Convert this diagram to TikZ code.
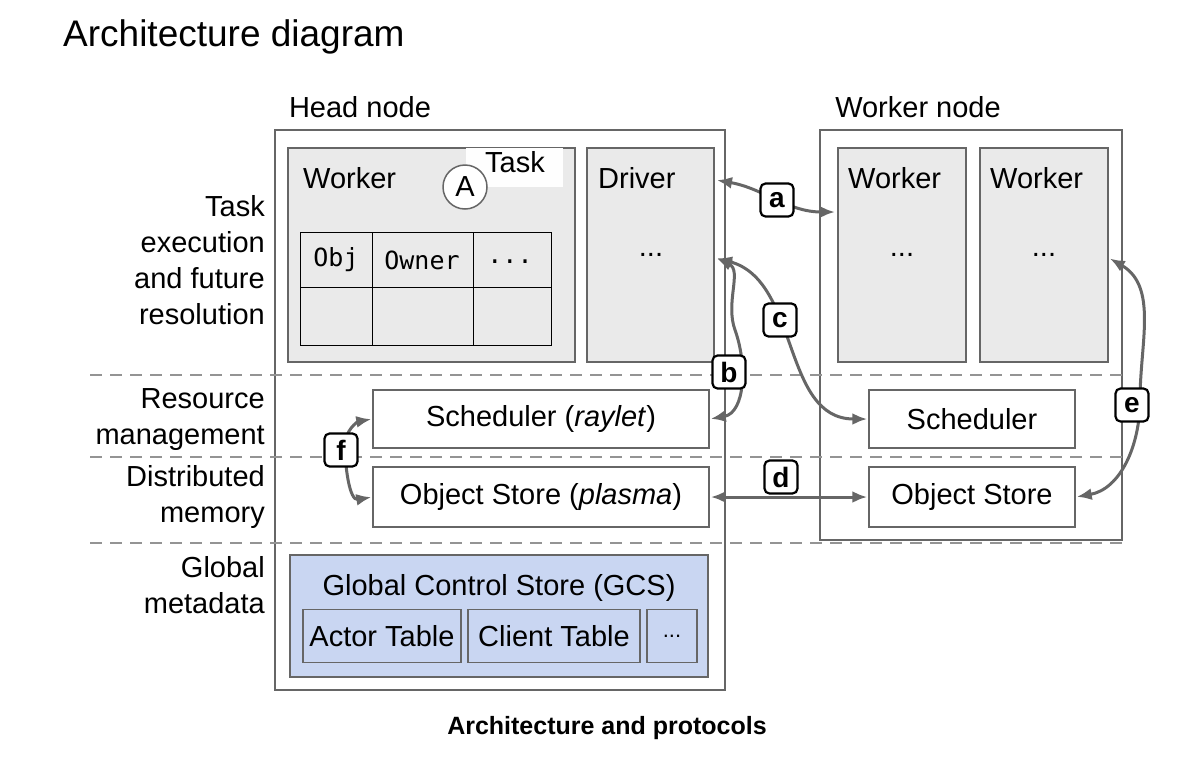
\documentclass[tikz,border=0pt]{standalone}
\usepackage{fontspec}
\setmainfont{Liberation Sans}
\setmonofont{DejaVu Sans Mono}
\usetikzlibrary{arrows,arrows.meta,positioning}
\definecolor{boxgray}{HTML}{EAEAEA}
\definecolor{linegray}{HTML}{666666}
\definecolor{gcsblue}{HTML}{C9D6F2}
\begin{document}
\begin{tikzpicture}[
  x=1pt,y=-1pt,
  every node/.style={font=\fontsize{29}{33}\selectfont, inner sep=0pt},
  frame/.style={draw=linegray, line width=1.5pt},
  grayframe/.style={frame, fill=boxgray},
  plainbox/.style={frame, fill=white},
  tag/.style={draw=black, line width=2.2pt, rounded corners=5pt, fill=white,
    minimum size=33pt, font=\fontsize{28}{28}\selectfont\bfseries},
  sidelabel/.style={anchor=east, align=right, font=\fontsize{29}{36}\selectfont},
  >={Latex[length=15pt,width=12pt]}, %Make the arrow tips latex
  myline/.style={draw=linegray, line width=3pt, <->, shorten <=1pt, shorten >=1pt},
  sep/.style={draw=linegray!70, line width=2.5pt, dash pattern=on 12pt off 8pt}
  ]
\useasboundingbox (0,0) rectangle (1200,772);
\node[anchor=west, font=\fontsize{37}{40}\selectfont] (title) at (63,37) {Architecture diagram};
% outer boxes
\draw[frame] (275,130) rectangle (725,690);
\draw[frame] (820,130) rectangle (1122,540);
\node (headlbl) at (360,107) {Head node};
\node (worklbl) at (918,107) {Worker node};
% separators
\draw[sep] (90,375) -- (1128,375);
\draw[sep] (90,457) -- (1128,457);
\draw[sep] (90,543) -- (1128,543);
% layer labels
\node[sidelabel] (lay1) at (265,260) {Task\\execution\\and future\\resolution};
\node[sidelabel] (lay2) at (265,420) {Resource\\management};
\node[sidelabel] (lay3) at (265,497) {Distributed\\memory};
\node[sidelabel] (lay4) at (265,585) {Global\\metadata};
% head node worker
\draw[grayframe] (288,148) rectangle (575,362);
\fill[white!95!boxgray] (466,148) rectangle (563,187);
\node[anchor=west] (hw) at (303,178) {Worker};
\node[draw=linegray, line width=1.5pt, circle, fill=white, minimum size=44pt] (A) at (465,187) {A};
\node (task) at (515,162) {Task};
\draw[black, line width=1pt] (300,232) rectangle (551,345) (300,287) -- (551,287)
  (372,232) -- (372,345) (473,232) -- (473,345);
\node[font=\fontsize{25}{25}\ttfamily] (obj) at (336,260) {Obj};
\node[font=\fontsize{25}{25}\ttfamily] (own) at (422,260) {Owner};
\node[font=\fontsize{25}{25}\ttfamily] (dd) at (510,262) {...};
% driver and remote workers
\draw[grayframe] (587,148) rectangle (714,362);
\node[anchor=west] (drvlbl) at (598,178) {Driver};
\node (drvdots) at (651,255) {...};
\draw[grayframe] (838,148) rectangle (966,362);
\node[anchor=west] (w1lbl) at (848,178) {Worker};
\node (w1dots) at (902,255) {...};
\draw[grayframe] (980,148) rectangle (1108,362);
\node[anchor=west] (w2lbl) at (990,178) {Worker};
\node (w2dots) at (1044,255) {...};
% services
\node[plainbox, minimum width=336pt, minimum height=58pt] (sched) at (541,419) {Scheduler (\textit{raylet})};
\node[plainbox, minimum width=336pt, minimum height=60pt] (store) at (541,497) {Object Store (\textit{plasma})};
\node[plainbox, minimum width=206pt, minimum height=58pt] (rsched) at (972,419) {Scheduler};
\node[plainbox, minimum width=206pt, minimum height=60pt] (rstore) at (972,497) {Object Store};
% gcs
\draw[frame, fill=gcsblue] (290,555) rectangle (708,677);
\node (gcs) at (499,588) {Global Control Store (GCS)};
\node[frame, minimum width=158pt, minimum height=53pt] (actor) at (382,636) {Actor Table};
\node[frame, minimum width=172pt, minimum height=53pt] (client) at (554,636) {Client Table};
\node[frame, minimum width=50pt, minimum height=53pt, font=\fontsize{22}{22}\selectfont] (more) at (672,636) {...};
% anchors on the node edges
\coordinate (drvA) at (716,180);
\coordinate (drvB) at (716,258);
\coordinate (wkA) at (836,212);
\coordinate (wkE) at (1109,258);
% protocols
\path[myline] (drvA) to[out=-10,in=180] (wkA);
\path[myline] (sched.east) to[out=10,in=-70] (735,330) to[out=110,in=-25] (drvB);
\path[myline] (drvB) to[out=-15,in=180] (rsched.west);
\path[myline] (store.east) -- (rstore.west);
\path[myline] (wkE) to[out=-30,in=90] (1140,400) to[out=-90,in=10] (rstore.east);
\path[myline] (sched.west) to[out=190,in=90] (345,445) to[out=-90,in=190] (store.west);
% tags
\node[tag] (a) at (777,200) {a};
\node[tag] (b) at (729,372) {b};
\node[tag] (c) at (780,320) {c};
\node[tag] (d) at (781,477) {d};
\node[tag] (e) at (1132,405) {e};
\node[tag] (f) at (341,450) {f};
\node[font=\fontsize{25}{28}\selectfont\bfseries] (cap) at (607,728) {Architecture and protocols};
\end{tikzpicture}
\end{document}
